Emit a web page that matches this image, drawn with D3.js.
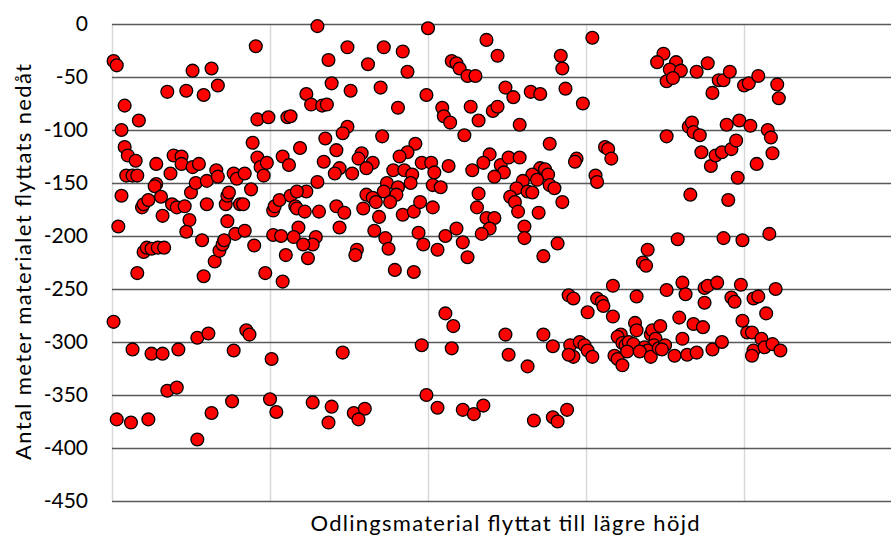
<!DOCTYPE html>
<html>
<head>
<meta charset="utf-8">
<script src="https://cdn.jsdelivr.net/npm/d3@7"></script>
<style>
	body { margin: 0; background: #fff; }
	text { font-family: Lato, "Open Sans", sans-serif; fill: #000; }
</style>
</head>
<body>
<svg id="chart" width="891" height="536"></svg>
<script>
// scatter: material moved to lower height in bands from left to right
var band1 = [[1,-35],[3,-39],[1,-281],[8,-77],[6,-100],[8,-116],[10,-124],[15,-129],[9,-143],[13,-143],
	[16,-143],[6,-162],[4,-191],[3,-373],[12,-376],[13,-307],[17,-91],[16,-235],[19,-173],[20,-170],
	[23,-166],[20,-215],[22,-211],[25,-212],[29,-211],[33,-211],[23,-373],[25,-311],[32,-311],[28,-151],
	[27,-153],[28,-132],[31,-163],[32,-181],[35,-64],[37,-141],[35,-346],[41,-343],[39,-124],[44,-125],
	[44,-132],[38,-170],[41,-173],[46,-172],[42,-307],[47,-63],[49,-185],[47,-196],[50,-159],[51,-135],
	[55,-132],[53,-150],[51,-44],[54,-392],[54,-296],[61,-292],[57,-204],[58,-67],[58,-238],[60,-170],
	[60,-148],[63,-42],[63,-367],[65,-224],[66,-138],[67,-144],[67,-58],[68,-214],[70,-208],[71,-204],
	[72,-170],[73,-162],[74,-159],[73,-186],[76,-356],[77,-141],[79,-146],[77,-308],[78,-198],[81,-170],
	[83,-170],[84,-141],[84,-195],[85,-289],[87,-293],[88,-156],[89,-112],[90,-209],[91,-21],[92,-126],
	[92,-90],[99,-88],[94,-135],[96,-143],[98,-131],[97,-235],[100,-354],[101,-316],[104,-366],[102,-199],
	[107,-200],[102,-176],[103,-172],[106,-166],[108,-243],[108,-125],[112,-133],[110,-218],[111,-88],[113,-87],
	[113,-162],[116,-172],[119,-117]];

var band2 = [[130,-2],[149,-22],[137,-34],[123,-66],[139,-56],[151,-63],[126,-76],[133,-77],[136,-76],[172,-22],
	[184,-26],[162,-38],[187,-45],[170,-60],[181,-79],[200,-4],[199,-67],[149,-97],[146,-103],[135,-108],
	[171,-106],[142,-119],[134,-130],[158,-122],[156,-127],[165,-131],[161,-136],[144,-136],[141,-141],[152,-141],
	[192,-113],[187,-121],[182,-125],[196,-131],[202,-131],[178,-138],[185,-138],[190,-142],[189,-150],[204,-140],
	[130,-149],[174,-150],[172,-158],[181,-154],[180,-161],[176,-168],[123,-158],[117,-158],[117,-174],[122,-177],
	[131,-177],[142,-172],[147,-178],[159,-174],[161,-161],[165,-164],[167,-168],[169,-182],[184,-180],[191,-177],
	[195,-168],[203,-173],[144,-192],[118,-192],[115,-201],[129,-201],[127,-208],[121,-208],[166,-195],[173,-202],
	[175,-212],[194,-197],[197,-208],[155,-213],[154,-218],[124,-221],[206,-213],
	[179,-232],[191,-234],[146,-310],[196,-303],[127,-357],[139,-361],[137,-376],[153,-367],[160,-363],[156,-373],
	[199,-350],[206,-362]];

var band3 = [[237,-15],[244,-30],[215,-35],[218,-37],[220,-42],[225,-49],[230,-49],[284,-30],[285,-42],[304,-13],
	[209,-79],[210,-87],[214,-93],[227,-78],[232,-91],[241,-82],[244,-78],[249,-60],[254,-69],[265,-64],
	[271,-66],[287,-61],[298,-75],[258,-95],[223,-105],[277,-113],[213,-134],[239,-123],[235,-131],[228,-138],
	[246,-133],[248,-140],[242,-144],[251,-126],[258,-126],[271,-136],[274,-137],[276,-142],[266,-142],[269,-147],
	[294,-127],[293,-130],[306,-143],[307,-149],[203,-152],[208,-154],[232,-160],[231,-173],[260,-148],[256,-155],
	[263,-158],[266,-159],[277,-152],[280,-155],[252,-163],[255,-168],[257,-177],[270,-178],[285,-168],[237,-183],
	[242,-183],[239,-193],[234,-198],[261,-191],[261,-202],[218,-193],[211,-200],[222,-206],[225,-220],[273,-219],
	[282,-207],
	[211,-273],[216,-285],[215,-306],[249,-293],[251,-312],[263,-323],[273,-293],[279,-304],[289,-256],[292,-259],
	[301,-272],[290,-303],[292,-314],[289,-312],[296,-300],[299,-303],[301,-308],[304,-314],[222,-364],[229,-368],
	[235,-360],[267,-374],[279,-371],[282,-375],[288,-364]];

var band4 = [[349,-28],[345,-36],[357,-36],[353,-43],[360,-44],[351,-54],[355,-51],[370,-45],[377,-37],[384,-53],
	[387,-53],[391,-45],[380,-65],[400,-58],[403,-56],[409,-49],[351,-106],[365,-97],[367,-93],[368,-102],
	[372,-105],[389,-95],[397,-91],[404,-96],[312,-116],[314,-118],[316,-127],[373,-121],[379,-134],[382,-124],
	[386,-121],[392,-118],[395,-110],[408,-132],[396,-145],[366,-161],[390,-166],[358,-203],[387,-202],[399,-204],
	[339,-213],[336,-225],[338,-228],[317,-247],[332,-257],[351,-251],[361,-244],[363,-255],[375,-249],[377,-247],
	[383,-244],[375,-263],[392,-258],[394,-262],[398,-246],[406,-259],[409,-257],[307,-259],[310,-262],[311,-266],
	[317,-276],[331,-282],[332,-289],[322,-293],[320,-295],[323,-301],[325,-303],[327,-300],[330,-302],[341,-293],
	[342,-289],[347,-285],[344,-297],[343,-303],[337,-305],[339,-308],[318,-313],[320,-316],[323,-322],[326,-309],
	[334,-309],[341,-314],[346,-306],[350,-303],[348,-307],[356,-313],[364,-312],[370,-310],[359,-277],[368,-283],
	[374,-286],[361,-297],[380,-307],[386,-300],[399,-280],[402,-291],[405,-291],[406,-308],[405,-313],
	[421,-57],[422,-70],[415,-100],[417,-107],[418,-122],[416,-198],[420,-250],[414,-273],[411,-297],[413,-305],
	[418,-302],[423,-308]];

var yTicks = [0, -50, -100, -150, -200, -250, -300, -350, -400, -450];
var xGridAt = [0, 100, 200, 300, 400];
var yTitle = "Antal meter materialet flyttats nedåt";
var xTitle = "Odlingsmaterial flyttat till lägre höjd";

(function () {
	var svg = d3.select("#chart"),
		plotLeft = 112, plotTop = 24, plotRight = 891, plotBottom = 501;

	var x = d3.scaleLinear().domain([0, 493]).range([plotLeft, plotRight]);
	var y = d3.scaleLinear().domain([-450, 0]).range([plotBottom, plotTop]);

	// vertical grid (light)
	svg.append("g")
		.attr("transform", "translate(0," + plotBottom + ")")
		.call(d3.axisBottom(x).tickValues(xGridAt).tickSize(-(plotBottom - plotTop)).tickFormat(""))
		.call(function (g) {
			g.select(".domain").remove();
			g.selectAll("line").attr("stroke", "#d9d9d9").attr("stroke-width", 1.5);
		});

	// horizontal grid (dark)
	svg.append("g")
		.attr("transform", "translate(" + plotLeft + ",0)")
		.call(d3.axisLeft(y).tickValues(yTicks).tickSize(-(plotRight - plotLeft)).tickFormat(""))
		.call(function (g) {
			g.select(".domain").remove();
			g.selectAll("line").attr("stroke", "#595959").attr("stroke-width", 1.5);
		});

	// tick labels
	svg.append("g")
		.attr("transform", "translate(" + (plotLeft - 24) + ",0)")
		.call(d3.axisLeft(y).tickValues(yTicks).tickSize(0).tickPadding(0).tickFormat(function (d) { return String(d); }))
		.call(function (g) {
			g.select(".domain").remove();
			g.selectAll("text").style("font-family", "Lato, sans-serif").style("font-size", "21px").attr("fill", "#000");
		});

	var points = band1.concat(band2, band3, band4);

	svg.append("g").selectAll("circle")
		.data(points)
		.enter().append("circle")
		.attr("cx", function (d) { return x(d[0]); })
		.attr("cy", function (d) { return y(d[1]); })
		.attr("r", 6.4)
		.attr("fill", "#ff0000")
		.attr("stroke", "#000")
		.attr("stroke-width", 1.3);

	svg.append("text")
		.attr("transform", "translate(31,262) rotate(-90)")
		.attr("text-anchor", "middle")
		.attr("textLength", 396)
		.attr("lengthAdjust", "spacing")
		.style("font-size", "22px")
		.text(yTitle);

	svg.append("text")
		.attr("x", 505).attr("y", 531)
		.attr("text-anchor", "middle")
		.attr("textLength", 389)
		.attr("lengthAdjust", "spacing")
		.style("font-size", "22px")
		.text(xTitle);
})();
</script>
</body>
</html>
